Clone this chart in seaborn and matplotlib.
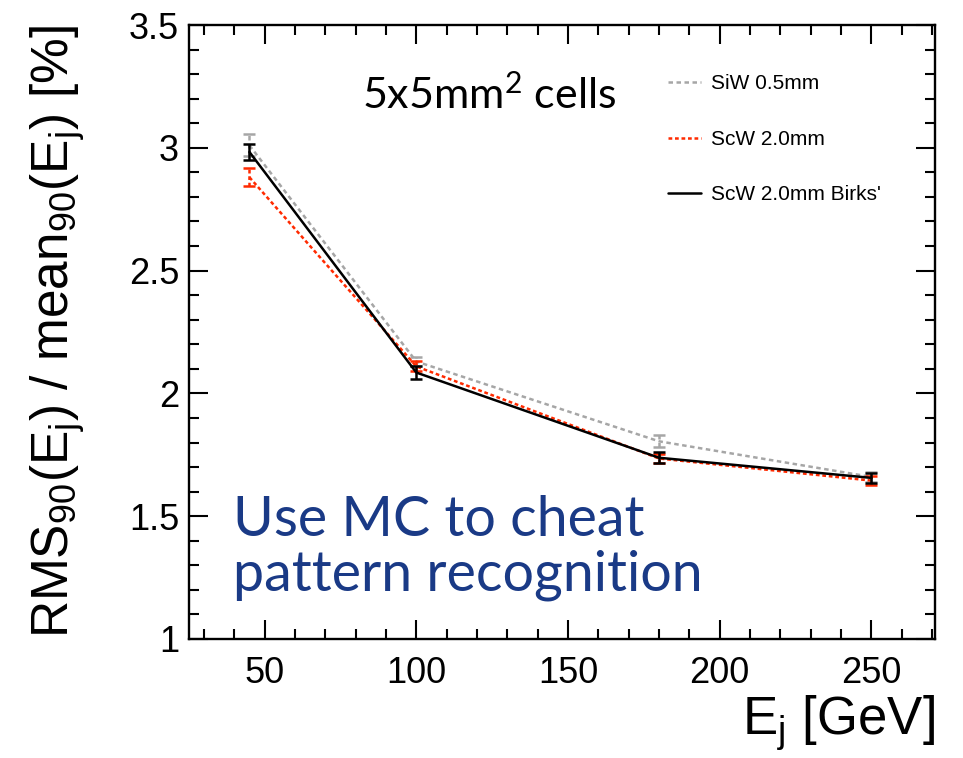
import matplotlib
matplotlib.use("Agg")
import matplotlib.pyplot as plt
import matplotlib.ticker as mticker
import numpy as np
import pandas as pd
import seaborn as sns

# beam energies [GeV]
energies = [45, 100, 180, 250]

# RMS90 / mean90 [%] for each sample
siw_vals = [3.01, 2.13, 1.805, 1.66]
siw_errs = [0.045, 0.02, 0.025, 0.02]
scw_vals = [2.88, 2.11, 1.735, 1.645]
scw_errs = [0.037, 0.02, 0.02, 0.02]
birks_vals = [2.983, 2.085, 1.738, 1.656]
birks_errs = [0.033, 0.025, 0.022, 0.02]

labels = ["SiW 0.5mm", "ScW 2.0mm", "ScW 2.0mm Birks'"]
colors = ["#a6a6a6", "#ff2a00", "#000000"]

sns.set_theme(style="ticks")
plt.rcParams["font.family"] = ["Liberation Sans", "DejaVu Sans"]
plt.rcParams["mathtext.fontset"] = "custom"
plt.rcParams["mathtext.rm"] = "Liberation Sans"
plt.rcParams["mathtext.it"] = "Liberation Sans"
plt.rcParams["mathtext.default"] = "regular"
for key in ["text.color", "axes.labelcolor", "xtick.color", "ytick.color"]:
    plt.rcParams[key] = "black"

fig = plt.figure(figsize=(9.63, 7.58), dpi=100)
ax = fig.add_axes([0.196, 0.157, 0.775, 0.81])

series = [
    (labels[0], siw_vals, siw_errs, colors[0], (0, (1.8, 1.4))),
    (labels[1], scw_vals, scw_errs, colors[1], (0, (1.5, 1.1))),
    (labels[2], birks_vals, birks_errs, colors[2], "-"),
]

for name, vals, errs, col, ls in series:
    df = pd.DataFrame({"energy": energies, "value": vals})
    sns.lineplot(data=df, x="energy", y="value", ax=ax, color=col,
                 linewidth=1.8, linestyle=ls, label=name, errorbar=None)
    eb = ax.errorbar(energies, vals, yerr=errs, fmt="none", ecolor=col,
                     elinewidth=1.8, capsize=4.5, capthick=1.8)
    if ls != "-":
        for c in eb[2]:
            c.set_linestyle(ls)

ax.set_xlim(25, 271)
ax.set_ylim(1, 3.5)
ax.xaxis.set_major_locator(mticker.MultipleLocator(50))
ax.xaxis.set_minor_locator(mticker.MultipleLocator(10))
ax.yaxis.set_major_locator(mticker.MultipleLocator(0.5))
ax.yaxis.set_minor_locator(mticker.MultipleLocator(0.1))
ax.yaxis.set_major_formatter(mticker.FuncFormatter(lambda v, p: f"{v:g}"))

ax.tick_params(which="both", direction="in", top=True, right=True,
               width=1.5, color="black")
ax.tick_params(which="major", length=14, labelsize=26, pad=7)
ax.tick_params(which="minor", length=7)
ax.tick_params(axis="x", which="major", pad=12)
for sp in ax.spines.values():
    sp.set_linewidth(1.7)
    sp.set_color("black")

ax.set_xlabel(r"E$_{j}$ [GeV]", fontsize=38, loc="right", labelpad=2)
ax.set_ylabel(r"RMS$_{90}$(E$_{j}$) / mean$_{90}$(E$_{j}$) [%]", fontsize=37,
              labelpad=30)

ax.text(0.232, 0.886, r"5x5mm$^{2}$ cells", transform=ax.transAxes,
        fontsize=31, family=["Lato", "DejaVu Sans"], va="center", ha="left",
        color="black")
ax.text(0.059, 0.235, "Use MC to cheat\npattern recognition",
        transform=ax.transAxes, fontsize=40, family=["Lato", "DejaVu Sans"],
        color="#1a3a86", va="top", ha="left", linespacing=1.1)

leg = ax.legend(loc="upper left", bbox_to_anchor=(0.617, 0.95), frameon=False,
                fontsize=15, handlelength=1.6, handletextpad=0.45,
                labelspacing=1.75)

fig.savefig("out.png", dpi=100)
